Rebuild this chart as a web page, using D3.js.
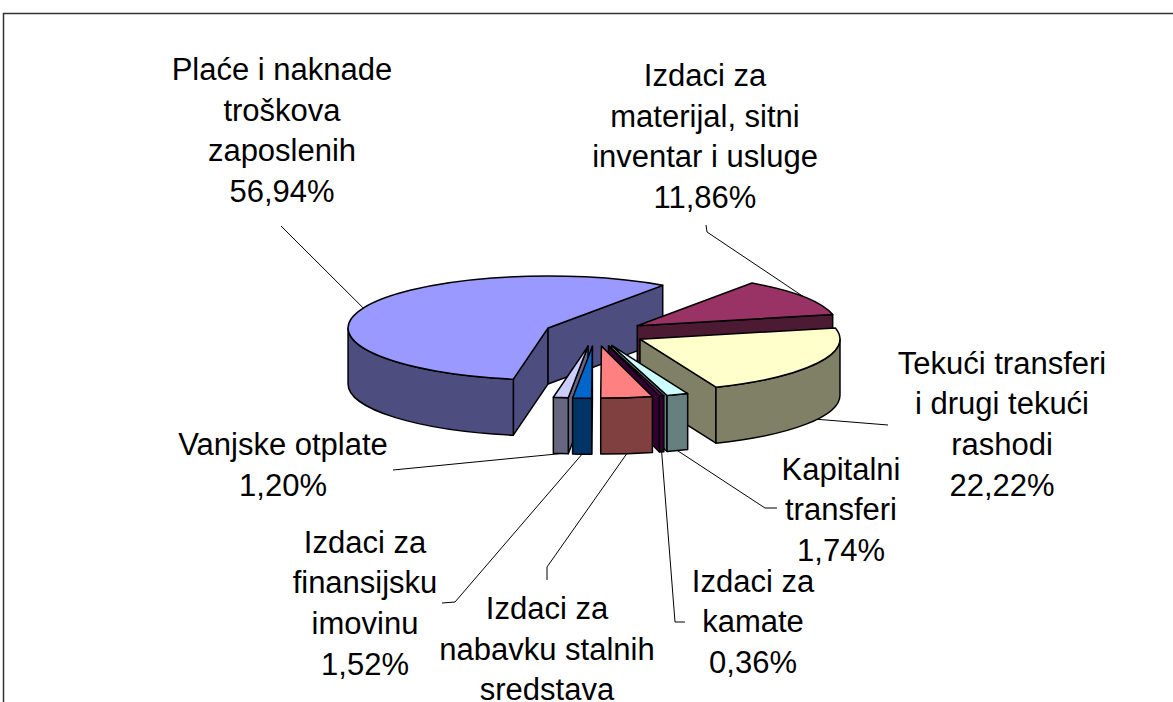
<!DOCTYPE html>
<html>
<head>
<meta charset="utf-8">
<script src="https://cdn.jsdelivr.net/npm/d3@7"></script>
<style>
  body { margin: 0; background: #fff; }
  svg { display: block; }
  text { font-family: "Liberation Sans", Arial, sans-serif; font-size: 31px; fill: #000; }
</style>
</head>
<body>
<div id="chart"></div>
<script>
// slice names (one entry per line of the label)
const categories = [
    ['Plaće i naknade', 'troškova', 'zaposlenih'],
    ['Izdaci za', 'materijal, sitni', 'inventar i usluge'],
    ['Tekući transferi', 'i drugi tekući', 'rashodi'],
    ['Kapitalni', 'transferi'],
    ['Izdaci za', 'kamate'],
    ['Izdaci za', 'nabavku stalnih', 'sredstava'],
    ['Izdaci za', 'finansijsku', 'imovinu'],
    ['Vanjske otplate']
];
const values = [56.94, 11.86, 22.22, 1.74, 0.36, 4.16, 1.52, 1.20];

const colors = ['#9999FF', '#993366', '#FFFFCC', '#CCFFFF', '#660066', '#FF8080', '#0066CC', '#CCCCFF'];

// label layout: centre x, first baseline
const labelX = [282, 705, 1002, 841, 753, 547, 365, 283];
const labelY = [80, 86, 373.5, 479.5, 591.5, 619, 552.5, 455];
// leader line bends / ends (after the point on the slice)
const leaderPts = [
    [[281, 226]],
    [[707, 232], [706, 225]],
    [[888, 425]],
    [[765, 508], [777, 508]],
    [[675, 622], [685, 622]],
    [[547, 567], [547, 580]],
    [[455, 602], [442, 603]],
    [[393, 470]]
];

const W = 1173, H = 702;
const cx = 595, cy = 333, rx = 200, ry = 52, depth = 56, explode = 0.254;
const deg = Math.PI / 180;

const svg = d3.select('#chart').append('svg')
    .attr('width', W)
    .attr('height', H);

// chart border (only top and left edges fall inside the window)
svg.append('rect')
    .attr('x', 3.5).attr('y', 13.5)
    .attr('width', W + 20).attr('height', H + 20)
    .style('fill', 'none')
    .style('stroke', '#333')
    .style('stroke-width', 1.5);

const pie = d3.pie().sort(null).value(d => d)
    .startAngle(190 * deg)
    .endAngle(190 * deg + 2 * Math.PI);

const arcs = pie(values).map((d, i) => {
    // convert to screen angle (0 = 3 o'clock, clockwise)
    const a = d.startAngle - Math.PI / 2;
    const b = d.endAngle - Math.PI / 2;
    const mid = (a + b) / 2;
    const apex = [cx + rx * explode * Math.cos(mid), cy + ry * explode * Math.sin(mid)];
    // furthest-back point decides painting order
    let back = Math.min(Math.sin(a), Math.sin(b));
    for (let k = -1; k <= 2; k++) {
        const t = 1.5 * Math.PI + 2 * Math.PI * k;
        if (t > a && t < b) back = -1;
    }
    return { i, a, b, mid, apex, back, value: d.value };
});

function rim(apex, t, dy) {
    return [apex[0] + rx * Math.cos(t), apex[1] + ry * Math.sin(t) + (dy || 0)];
}

function topPath(s) {
    const p0 = rim(s.apex, s.a), p1 = rim(s.apex, s.b);
    const large = (s.b - s.a) > Math.PI ? 1 : 0;
    return `M${s.apex[0]},${s.apex[1]}L${p0[0]},${p0[1]}A${rx},${ry} 0 ${large} 1 ${p1[0]},${p1[1]}Z`;
}

function sidePath(s, t1, t2) {
    const p0 = rim(s.apex, t1), p1 = rim(s.apex, t2);
    return `M${p0[0]},${p0[1]}A${rx},${ry} 0 0 1 ${p1[0]},${p1[1]}` +
        `L${p1[0]},${p1[1] + depth}A${rx},${ry} 0 0 0 ${p0[0]},${p0[1] + depth}Z`;
}

function wallPath(s, t) {
    const p = rim(s.apex, t);
    return `M${s.apex[0]},${s.apex[1]}L${p[0]},${p[1]}L${p[0]},${p[1] + depth}L${s.apex[0]},${s.apex[1] + depth}Z`;
}

const pieG = svg.append('g');
const order = arcs.slice().sort((p, q) => p.back - q.back);

order.forEach(s => {
    const g = pieG.append('g');
    const top = colors[s.i];
    const c = d3.rgb(top);
    const side = d3.rgb(c.r * 0.5, c.g * 0.5, c.b * 0.5).formatHex();

    const faces = [];
    if (Math.cos(s.a) < 0) faces.push(wallPath(s, s.a));
    if (Math.cos(s.b) > 0) faces.push(wallPath(s, s.b));
    for (let k = -1; k <= 2; k++) {
        const lo = Math.max(s.a, 2 * Math.PI * k);
        const hi = Math.min(s.b, 2 * Math.PI * k + Math.PI);
        if (hi > lo) faces.push(sidePath(s, lo, hi));
    }
    faces.forEach(f => {
        g.append('path').attr('d', f)
            .style('fill', side)
            .style('stroke', '#000')
            .style('stroke-width', 1.5)
            .style('stroke-linejoin', 'round');
    });
    g.append('path').attr('d', topPath(s))
        .style('fill', top)
        .style('stroke', '#000')
        .style('stroke-width', 1.5)
        .style('stroke-linejoin', 'round');
});

// leader lines
const fmt = v => d3.format('.2f')(v).replace('.', ',') + '%';
arcs.forEach(s => {
    const start = rim(s.apex, s.mid, Math.sin(s.mid) > 0 ? depth : 0);
    const pts = [start].concat(leaderPts[s.i]);
    svg.append('path')
        .attr('d', d3.line()(pts))
        .style('fill', 'none')
        .style('stroke', '#000')
        .style('stroke-width', 1);
});

// labels
const lineH = 40.7;
arcs.forEach(s => {
    const lines = categories[s.i].concat([fmt(s.value)]);
    const t = svg.append('text')
        .attr('x', labelX[s.i])
        .attr('y', labelY[s.i])
        .attr('text-anchor', 'middle');
    lines.forEach((l, j) => {
        t.append('tspan')
            .attr('x', labelX[s.i])
            .attr('y', labelY[s.i] + j * lineH)
            .text(l);
    });
});
</script>
</body>
</html>
